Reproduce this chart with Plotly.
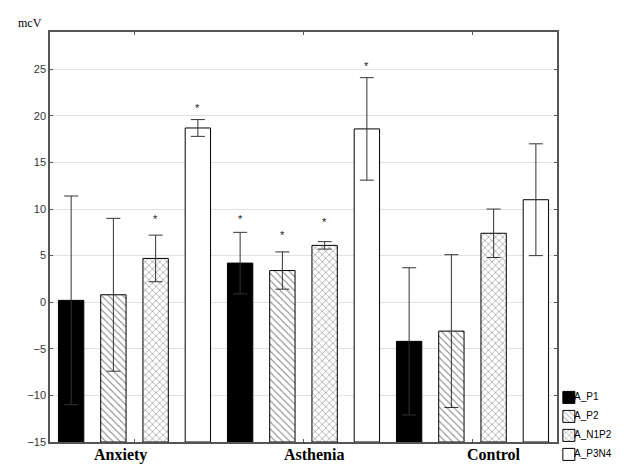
import plotly.graph_objects as go

groups = ["Anxiety", "Asthenia", "Control"]
series = ["A_P1", "A_P2", "A_N1P2", "A_P3N4"]

# mean amplitude, mcV, per series across groups
a_p1 = [0.2, 4.2, -4.2]
a_p2 = [0.8, 3.4, -3.1]
a_n1p2 = [4.7, 6.1, 7.4]
a_p3n4 = [18.7, 18.6, 11.0]

# error bar half-lengths
err_p1 = [11.2, 3.3, 7.9]
err_p2 = [8.2, 2.0, 8.2]
err_n1p2 = [2.5, 0.4, 2.6]
err_p3n4 = [0.9, 5.5, 6.0]

# asterisks: (group index, series index, height)
star_group = [0, 0, 1, 1, 1, 1]
star_series = [2, 3, 0, 1, 2, 3]
star_y = [9.1, 21.1, 9.1, 7.4, 8.8, 25.6]

y_min = -15  # bars are drawn up from the bottom of the axis

values = [a_p1, a_p2, a_n1p2, a_p3n4]
errors = [err_p1, err_p2, err_n1p2, err_p3n4]
fills = ["black", "white", "white", "white"]
shapes = ["", "\\", "x", ""]

fig = go.Figure()
for name, vals, errs, fc, sh in zip(series, values, errors, fills, shapes):
    fig.add_trace(go.Bar(
        x=groups,
        y=[v - y_min for v in vals],
        base=y_min,
        name=name,
        error_y={"type": "data", "array": errs, "color": "#333333",
                 "thickness": 1, "width": 7},
        marker={
            "color": fc,
            "line": {"color": "black", "width": 1},
            "pattern": {"shape": sh, "fgcolor": "black", "bgcolor": fc,
                        "size": 5, "solidity": 0.2},
        },
    ))

n = len(series)
for g, s, yv in zip(star_group, star_series, star_y):
    fig.add_annotation(
        x=g + (s - (n - 1) / 2) / n, y=yv, text="*", showarrow=False,
        font={"family": "Liberation Sans", "size": 11, "color": "#222"},
        yshift=-2,
    )

# group labels (Statistica-style, slightly off the ticks)
label_shift = [-14, 10, 21]
for i, (g, dx) in enumerate(zip(groups, label_shift)):
    fig.add_annotation(
        x=i, y=0, yref="paper", yanchor="top", text="<b>" + g + "</b>",
        showarrow=False, xshift=dx, yshift=-2,
        font={"family": "Liberation Serif", "size": 16, "color": "black"},
    )

fig.add_annotation(
    x=-0.068, y=1.0, xref="paper", yref="paper", xanchor="left",
    yanchor="bottom", text="mcV", showarrow=False,
    font={"family": "Liberation Serif", "size": 12, "color": "black"},
)

# plotly's legend leaves a wide gap after the swatch, so its own text is
# hidden and the names are set right next to the swatches instead
for k, name in enumerate(series):
    fig.add_annotation(
        x=1.03, y=0.112 - k * 19 / 410, xref="paper", yref="paper",
        xanchor="left", yanchor="middle", text=name, showarrow=False,
        font={"family": "Liberation Sans", "size": 10, "color": "black"},
    )

# page body keeps an 8px margin, so the figure is 8px smaller than the window
fig.update_layout(
    width=616,
    height=460,
    margin={"l": 42, "r": 67, "t": 24, "b": 26, "autoexpand": False},
    paper_bgcolor="white",
    plot_bgcolor="white",
    barmode="group",
    bargap=0,
    bargroupgap=0.4,
    font={"family": "Liberation Sans", "size": 11, "color": "#333"},
    legend={
        "xref": "container", "yref": "container",
        "x": 0.878, "xanchor": "left", "y": 0.185, "yanchor": "top",
        "font": {"family": "Liberation Sans", "size": 1,
                 "color": "rgba(0,0,0,0)"},
        "tracegroupgap": 0, "itemwidth": 30,
        "bgcolor": "rgba(0,0,0,0)",
    },
    xaxis={
        "range": [-0.5, 2.5],
        "showticklabels": False,
        "showline": True, "linecolor": "#555", "linewidth": 1.5,
        "mirror": "ticks", "ticks": "inside", "ticklen": 3,
        "tickcolor": "#555",
    },
    yaxis={
        "range": [-15, 29],
        "tickvals": [-15, -10, -5, 0, 5, 10, 15, 20, 25],
        "showgrid": True, "gridcolor": "#e2e2e2", "gridwidth": 1,
        "zeroline": False,
        "showline": True, "linecolor": "#555", "linewidth": 1.5,
        "mirror": "ticks", "ticks": "inside", "ticklen": 3,
        "tickcolor": "#555",
        "tickfont": {"family": "Liberation Sans", "size": 11, "color": "#333"},
    },
)

fig.write_html("out.html")
